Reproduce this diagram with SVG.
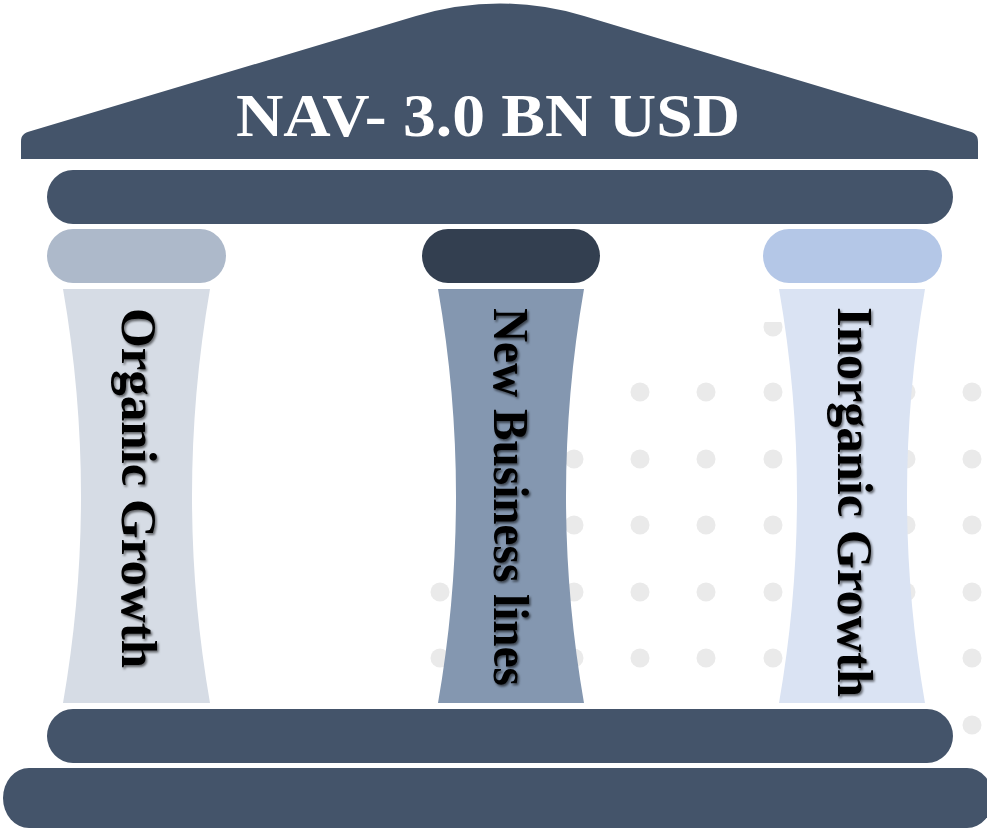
<svg xmlns="http://www.w3.org/2000/svg" width="987" height="829" viewBox="0 0 987 829">
  <defs>
    <style>
      .dark { fill: #44546a; }
      .dot { fill: #eaeaea; }
      .coltext { font-family: "Liberation Serif", "Times New Roman", serif; font-weight: bold; font-size: 50px; fill: #000; }
      .title { font-family: "Liberation Serif", "Times New Roman", serif; font-weight: bold; font-size: 62px; fill: #ffffff; }
    </style>
    <filter id="ts" x="-20%" y="-20%" width="140%" height="140%">
      <feDropShadow dx="1.5" dy="2" stdDeviation="1.3" flood-color="#000" flood-opacity="0.55"/>
    </filter>
    <clipPath id="halfdot"><rect x="760" y="322" width="30" height="20"/></clipPath>
  </defs>
  <rect width="987" height="829" fill="#ffffff"/>

  <!-- background dot grid -->
  <g id="dots">
    <circle class="dot" cx="773" cy="327" r="9.5" clip-path="url(#halfdot)"/>
    <circle class="dot" cx="640" cy="392" r="9.5"/>
    <circle class="dot" cx="706" cy="392" r="9.5"/>
    <circle class="dot" cx="773" cy="392" r="9.5"/>
    <circle class="dot" cx="839" cy="392" r="9.5"/>
    <circle class="dot" cx="906" cy="392" r="9.5"/>
    <circle class="dot" cx="972" cy="392" r="9.5"/>
    <circle class="dot" cx="574" cy="459" r="9.5"/>
    <circle class="dot" cx="640" cy="459" r="9.5"/>
    <circle class="dot" cx="706" cy="459" r="9.5"/>
    <circle class="dot" cx="773" cy="459" r="9.5"/>
    <circle class="dot" cx="839" cy="459" r="9.5"/>
    <circle class="dot" cx="906" cy="459" r="9.5"/>
    <circle class="dot" cx="972" cy="459" r="9.5"/>
    <circle class="dot" cx="574" cy="525" r="9.5"/>
    <circle class="dot" cx="640" cy="525" r="9.5"/>
    <circle class="dot" cx="706" cy="525" r="9.5"/>
    <circle class="dot" cx="773" cy="525" r="9.5"/>
    <circle class="dot" cx="839" cy="525" r="9.5"/>
    <circle class="dot" cx="906" cy="525" r="9.5"/>
    <circle class="dot" cx="972" cy="525" r="9.5"/>
    <circle class="dot" cx="440" cy="592" r="9.5"/>
    <circle class="dot" cx="507" cy="592" r="9.5"/>
    <circle class="dot" cx="574" cy="592" r="9.5"/>
    <circle class="dot" cx="640" cy="592" r="9.5"/>
    <circle class="dot" cx="706" cy="592" r="9.5"/>
    <circle class="dot" cx="773" cy="592" r="9.5"/>
    <circle class="dot" cx="839" cy="592" r="9.5"/>
    <circle class="dot" cx="906" cy="592" r="9.5"/>
    <circle class="dot" cx="972" cy="592" r="9.5"/>
    <circle class="dot" cx="440" cy="658" r="9.5"/>
    <circle class="dot" cx="507" cy="658" r="9.5"/>
    <circle class="dot" cx="574" cy="658" r="9.5"/>
    <circle class="dot" cx="640" cy="658" r="9.5"/>
    <circle class="dot" cx="706" cy="658" r="9.5"/>
    <circle class="dot" cx="773" cy="658" r="9.5"/>
    <circle class="dot" cx="839" cy="658" r="9.5"/>
    <circle class="dot" cx="906" cy="658" r="9.5"/>
    <circle class="dot" cx="972" cy="658" r="9.5"/>
    <circle class="dot" cx="972" cy="725" r="9.5"/>
  </g>

  <!-- roof -->
  <g id="roof">
    <path class="dark" d="M 21,159 L 21,142 C 21,135 24,133 31,131 L 416,16 Q 500,-9 584,16 L 968,131 C 975,133 978,135 978,142 L 978,159 Z"/>
    <text class="title" x="488" y="136" text-anchor="middle" textLength="504" lengthAdjust="spacingAndGlyphs">NAV- 3.0 BN USD</text>
  </g>

  <!-- entablature bar -->
  <g id="top-bar">
    <rect class="dark" x="47" y="170" width="906" height="54" rx="26" ry="27"/>
  </g>

  <!-- pillar 1 -->
  <g id="pillar-organic">
    <rect x="47" y="229" width="179" height="54" rx="26" ry="27" fill="#adb9ca"/>
    <path d="M 63,289 L 210,289 Q 174,496 210,703 L 63,703 Q 99,496 63,289 Z" fill="#d6dce5"/>
    <g filter="url(#ts)">
      <text class="coltext" transform="translate(122,308) rotate(90)" x="0" y="0" textLength="360" lengthAdjust="spacingAndGlyphs">Organic Growth</text>
    </g>
  </g>

  <!-- pillar 2 -->
  <g id="pillar-new-business">
    <rect x="422" y="229" width="178" height="54" rx="26" ry="27" fill="#333f50"/>
    <path d="M 438,289 L 584,289 Q 548,496 584,703 L 438,703 Q 474,496 438,289 Z" fill="#8497b0"/>
    <g filter="url(#ts)">
      <text class="coltext" transform="translate(494,308) rotate(90)" x="0" y="0" textLength="378" lengthAdjust="spacingAndGlyphs">New Business lines</text>
    </g>
  </g>

  <!-- pillar 3 -->
  <g id="pillar-inorganic">
    <rect x="763" y="229" width="179" height="54" rx="26" ry="27" fill="#b4c7e7"/>
    <path d="M 779,289 L 925,289 Q 889,496 925,703 L 779,703 Q 815,496 779,289 Z" fill="#dae3f3"/>
    <g filter="url(#ts)">
      <text class="coltext" transform="translate(838,307) rotate(90)" x="0" y="0" textLength="390" lengthAdjust="spacingAndGlyphs">Inorganic Growth</text>
    </g>
  </g>

  <!-- base -->
  <g id="base-upper">
    <rect class="dark" x="47" y="709" width="906" height="54" rx="26" ry="27"/>
  </g>
  <g id="base-lower">
    <rect class="dark" x="3" y="768" width="990" height="60" rx="26" ry="30"/>
  </g>

  <g id="connectors"/>
</svg>
